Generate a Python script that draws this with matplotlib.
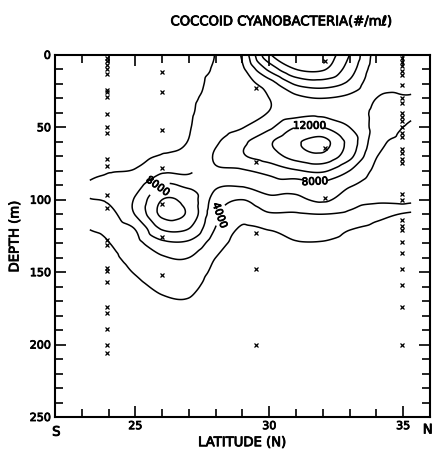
import numpy as np
import matplotlib
matplotlib.use("Agg")
import matplotlib.pyplot as plt
import matplotlib.tri as mtri
import matplotlib.patheffects as pe
from matplotlib.ticker import MultipleLocator, FixedLocator

# field: counts in thousands per mL, rows = depth, cols = latitude
LATS = [23.3, 24, 25, 26, 27, 28, 29, 30, 31, 32, 33, 34, 35.3]
DEPTHS = [0, 10, 20, 30, 40, 50, 60, 70, 80, 90, 100, 110, 120, 130, 140, 150, 160, 170, 180]
CELLS = [
    [3.0, 3.0, 3.1, 3.3, 3.5, 4.1, 8.4, 15.7, 17.5, 17.5, 14.0, 9.3, 9.0],
    [3.0, 3.0, 3.1, 3.3, 3.5, 4.3, 7.6, 12.5, 16.0, 16.2, 13.0, 9.0, 8.8],
    [3.0, 3.0, 3.1, 3.3, 3.5, 4.6, 7.0, 9.0, 12.3, 13.0, 11.5, 8.5, 8.4],
    [3.0, 3.0, 3.2, 3.4, 3.6, 5.0, 6.8, 8.0, 9.5, 10.0, 9.5, 8.0, 7.8],
    [3.0, 3.1, 3.3, 3.5, 3.7, 5.6, 7.0, 8.1, 9.2, 9.5, 9.0, 7.6, 6.5],
    [3.1, 3.2, 3.4, 3.6, 3.85, 6.5, 7.9, 9.6, 12.0, 12.0, 10.0, 7.3, 5.7],
    [3.2, 3.4, 3.6, 3.8, 4.1, 7.6, 9.6, 11.7, 13.7, 14.6, 11.3, 6.8, 5.3],
    [3.4, 3.6, 3.8, 4.1, 4.7, 8.3, 9.8, 11.0, 12.8, 13.5, 10.6, 6.1, 5.0],
    [3.7, 3.9, 4.1, 5.6, 5.6, 7.7, 7.8, 8.6, 9.8, 10.3, 8.0, 5.6, 4.8],
    [4.1, 4.6, 5.2, 8.2, 7.6, 6.3, 6.2, 7.0, 6.8, 7.4, 6.2, 5.1, 4.6],
    [3.95, 4.2, 6.2, 10.0, 9.2, 5.2, 4.0, 5.5, 5.6, 6.3, 5.0, 4.4, 4.5],
    [2.9, 3.3, 6.1, 10.4, 9.6, 4.5, 2.6, 3.8, 3.8, 4.0, 3.6, 2.6, 1.7],
    [2.05, 2.5, 4.1, 8.2, 8.0, 3.9, 1.8, 2.1, 2.6, 2.8, 2.1, 1.6, 1.3],
    [1.5, 1.95, 3.3, 5.5, 5.6, 2.9, 1.4, 1.6, 1.9, 1.9, 1.5, 1.2, 1.1],
    [1.2, 1.6, 2.6, 3.8, 4.0, 2.0, 1.1, 1.2, 1.4, 1.4, 1.2, 1.0, 0.9],
    [1.0, 1.3, 2.1, 3.0, 3.1, 1.6, 0.9, 1.0, 1.1, 1.1, 1.0, 0.9, 0.8],
    [0.9, 1.0, 1.6, 2.3, 2.4, 1.3, 0.8, 0.8, 0.9, 0.9, 0.8, 0.8, 0.7],
    [0.8, 0.9, 1.2, 1.8, 1.9, 1.1, 0.7, 0.7, 0.8, 0.8, 0.7, 0.7, 0.6],
    [0.7, 0.8, 1.0, 1.3, 1.4, 0.9, 0.6, 0.6, 0.7, 0.7, 0.6, 0.6, 0.5],
]
PLAIN_LEVELS = [2000, 10000, 14000, 16000]
LABEL_LEVELS = [4000, 8000, 12000]
LABEL_SPOTS = [(28.4, 112), (25.9, 92), (31.7, 87), (31.5, 49)]
# the 6000 line was not drawn through the bay between 27 and 31 N above ~80 m
GAP_LATS = (27.1, 31.0)
GAP_DEPTH = 81

# sample depths at each station
ST_LATS = [23.95, 26.0, 29.5, 32.1, 34.95]
ST_DEPTHS = [
    [2, 4, 7, 10, 13, 24, 26, 29, 41, 50, 54, 72, 77, 97, 106,
     128, 131, 147, 149, 157, 174, 178, 189, 200, 206],
    [12, 26, 52, 78, 103, 126, 152],
    [23, 74, 123, 148, 200],
    [4, 64, 99],
    [2, 5, 8, 11, 14, 21, 30, 33, 40, 43, 46, 50, 54, 57, 65, 68, 72, 75,
     96, 100, 114, 118, 121, 129, 137, 148, 159, 174, 200],
]

fig = plt.figure(figsize=(4.4, 4.55), dpi=100)
ax = fig.add_axes([0.125, 0.0835, 0.852, 0.796])

lon, dep = np.meshgrid(LATS, DEPTHS)
tri = mtri.Triangulation(lon.ravel(), dep.ravel())
interp = mtri.CubicTriInterpolator(tri, np.array(CELLS).ravel() * 1000, kind="geom")
gx, gy = np.meshgrid(np.linspace(LATS[0], LATS[-1], 300), np.linspace(0, 180, 300))
field = np.ma.filled(interp(gx, gy), np.nan)

lw = 1.1
ax.contour(gx, gy, field, levels=PLAIN_LEVELS, colors="black", linewidths=lw)
gap = (gx > GAP_LATS[0]) & (gx < GAP_LATS[1]) & (gy < GAP_DEPTH)
ax.contour(gx, gy, np.where(gap, np.nan, field), levels=[6000],
           colors="black", linewidths=lw)
cs = ax.contour(gx, gy, field, levels=LABEL_LEVELS, colors="black", linewidths=lw)
labels = ax.clabel(cs, manual=LABEL_SPOTS, fmt="%d", inline=True, inline_spacing=2,
                   fontsize=7.5)

for lat, depths in zip(ST_LATS, ST_DEPTHS):
    ax.plot([lat] * len(depths), depths, "x", color="black", ms=2.5, mew=0.9)

ax.set_xlim(22, 36)
ax.set_ylim(250, 0)
ax.xaxis.set_major_locator(FixedLocator([25, 30, 35]))
ax.xaxis.set_minor_locator(MultipleLocator(1))
ax.yaxis.set_major_locator(MultipleLocator(50))
ax.yaxis.set_minor_locator(MultipleLocator(10))
ax.tick_params(which="both", direction="in", top=True, right=True, width=1.2,
               labelsize=8)
ax.tick_params(which="major", length=8, pad=3)
ax.tick_params(which="minor", length=6)
for s in ax.spines.values():
    s.set_linewidth(1.5)

# plotter lettering: thicken the strokes a little
thick = [pe.withStroke(linewidth=0.6, foreground="black")]
for t in ax.get_xticklabels() + ax.get_yticklabels() + list(labels):
    t.set_path_effects(thick)

texts = [
    fig.text(0.64, 0.952, "COCCOID CYANOBACTERIA(#/m\u2113)", ha="center",
             va="center", fontsize=9.5),
    fig.text(0.034, 0.48, "DEPTH (m)", rotation=90, ha="center", va="center",
             fontsize=9.5),
    fig.text(0.55, 0.027, "LATITUDE (N)", ha="center", va="center", fontsize=9.5),
    fig.text(0.128, 0.05, "S", ha="center", va="center", fontsize=9.5),
    fig.text(0.972, 0.055, "N", ha="center", va="center", fontsize=9.5),
]
for t in texts:
    t.set_path_effects(thick)

fig.savefig("out.png", dpi=100)
